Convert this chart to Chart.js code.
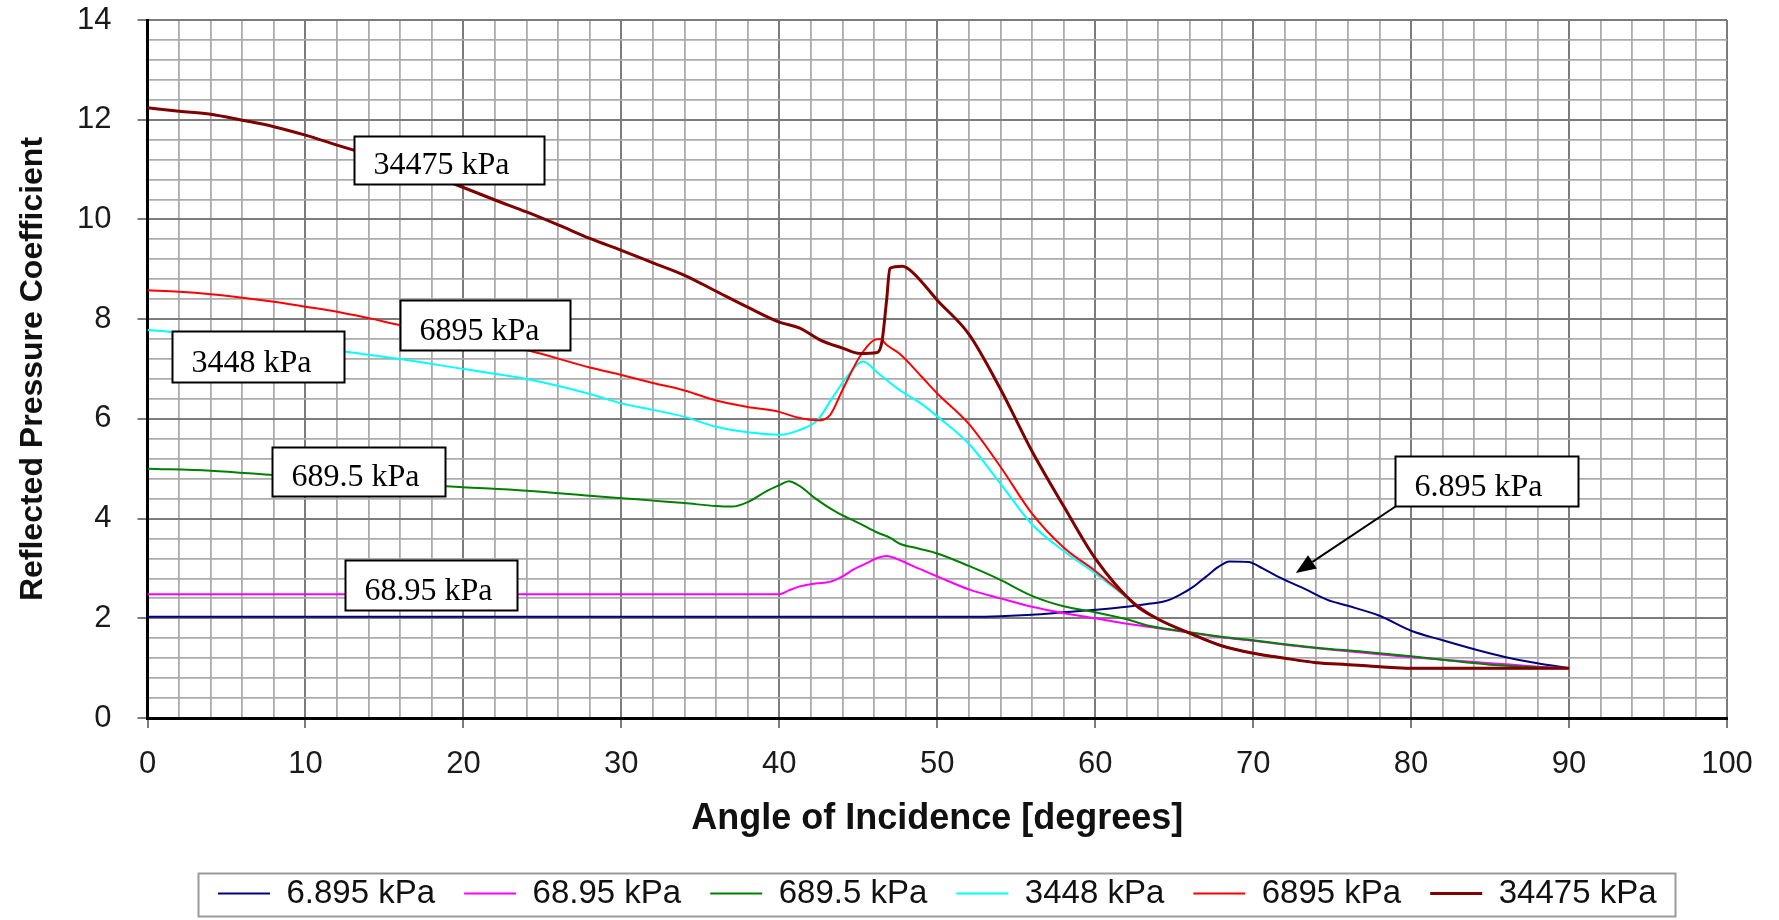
<!DOCTYPE html>
<html>
<head>
<meta charset="utf-8">
<script src="https://cdn.jsdelivr.net/npm/chart.js@4.4.1/dist/chart.umd.min.js"></script>
<style>
  html, body { margin: 0; padding: 0; background: #ffffff; }
  #wrap { width: 1779px; height: 920px; position: relative; }
</style>
</head>
<body>
<div id="wrap"><canvas id="c"></canvas></div>
<script>
// ---------- data ----------
const seriesNames = ['6.895 kPa', '68.95 kPa', '689.5 kPa', '3448 kPa', '6895 kPa', '34475 kPa'];

// 6.895 kPa
const ang6_895 = [0, 20, 40, 50, 52, 54, 56, 58, 60, 62, 63.4, 64.4, 65.3, 66.2, 67, 67.8, 68.5, 69.7, 70.6, 71.6, 73.2, 74.7, 76, 78, 80, 82, 84, 86, 88, 90];
const cp6_895  = [2.03, 2.03, 2.03, 2.03, 2.03, 2.04, 2.07, 2.12, 2.17, 2.23, 2.29, 2.34, 2.46, 2.63, 2.83, 3.03, 3.14, 3.13, 3.0, 2.83, 2.6, 2.37, 2.25, 2.05, 1.75, 1.56, 1.38, 1.22, 1.1, 1.0];

// 68.95 kPa
const ang68_95 = [0, 20, 40, 40.6, 41.3, 42.3, 43.2, 44, 44.7, 45.5, 46.2, 46.8, 47.6, 48.8, 50, 52, 54, 56, 58, 60, 62, 64, 66, 68, 70, 72, 75, 78, 80, 82, 85, 88, 90];
const cp68_95  = [2.48, 2.48, 2.48, 2.56, 2.64, 2.7, 2.73, 2.84, 2.98, 3.1, 3.21, 3.25, 3.17, 3.0, 2.84, 2.58, 2.4, 2.23, 2.1, 2.0, 1.89, 1.8, 1.71, 1.62, 1.55, 1.47, 1.37, 1.28, 1.22, 1.17, 1.1, 1.03, 1.0];

// 689.5 kPa
const ang689_5 = [0, 4, 8, 12, 16, 20, 24, 28, 30, 32, 34, 36, 37, 38, 39.2, 40, 40.6, 41.3, 42.3, 43.4, 44.3, 45.1, 46.2, 47, 47.6, 48.8, 50, 52, 54, 56, 58, 60, 62, 63.4, 66, 68, 70, 72, 74, 77, 80, 82, 85, 88, 90];
const cp689_5  = [5.0, 4.96, 4.87, 4.78, 4.7, 4.63, 4.56, 4.46, 4.41, 4.36, 4.31, 4.25, 4.24, 4.33, 4.55, 4.67, 4.75, 4.65, 4.4, 4.17, 4.02, 3.9, 3.72, 3.62, 3.5, 3.4, 3.3, 3.05, 2.77, 2.45, 2.24, 2.12, 1.98, 1.85, 1.72, 1.63, 1.56, 1.48, 1.41, 1.33, 1.24, 1.17, 1.07, 1.02, 1.0];

// 3448 kPa
const ang3448 = [0, 4, 8, 12, 16, 20, 24, 28, 30, 32, 34, 36, 38, 40, 41.3, 42.4, 43.4, 44.3, 45.3, 46.2, 47.6, 49, 50, 52, 54, 56, 58, 60, 62.5, 64, 66, 68, 70, 72, 74, 76, 78, 80, 85, 90];
const cp3448  = [7.78, 7.68, 7.53, 7.37, 7.2, 7.0, 6.8, 6.5, 6.31, 6.18, 6.04, 5.84, 5.73, 5.68, 5.78, 5.97, 6.44, 6.85, 7.15, 6.93, 6.58, 6.3, 6.05, 5.5, 4.7, 3.88, 3.35, 2.9, 2.3, 1.98, 1.7, 1.45, 1.3, 1.2, 1.11, 1.07, 1.03, 1.0, 1.0, 1.0];

// 6895 kPa
const ang6895 = [0, 2, 4, 6, 8, 10, 12, 14, 16, 20, 24, 28, 30, 32, 34, 36, 38, 40, 41, 42.4, 43.2, 44, 45.1, 46, 46.4, 46.8, 47.6, 49, 50, 52, 54, 56, 58, 60, 62.5, 64, 66, 68, 70, 72, 74, 76, 78, 80, 85, 90];
const cp6895  = [8.58, 8.55, 8.5, 8.43, 8.35, 8.25, 8.15, 8.02, 7.88, 7.63, 7.38, 7.03, 6.88, 6.72, 6.57, 6.37, 6.24, 6.14, 6.04, 5.97, 6.07, 6.58, 7.25, 7.58, 7.6, 7.48, 7.31, 6.85, 6.51, 5.9, 5.04, 4.1, 3.42, 2.95, 2.3, 1.98, 1.7, 1.45, 1.3, 1.2, 1.11, 1.07, 1.03, 1.0, 1.0, 1.0];

// 34475 kPa
const ang34475 = [0, 2, 4, 6, 8, 10, 12, 14, 16, 18, 20, 22, 24, 26, 28, 30, 32, 34, 36, 38, 40, 41.3, 42.6, 44, 45.1, 46.2, 46.5, 46.8, 47, 47.8, 48.5, 50, 52, 54, 56, 58, 60, 62.5, 64, 66, 68, 70, 72, 74, 76, 78, 80, 85, 90];
const cp34475  = [12.24, 12.17, 12.11, 11.99, 11.86, 11.69, 11.49, 11.3, 11.1, 10.88, 10.64, 10.39, 10.15, 9.89, 9.62, 9.38, 9.13, 8.88, 8.56, 8.24, 7.94, 7.82, 7.58, 7.42, 7.31, 7.33, 7.55, 8.4, 9.02, 9.06, 8.92, 8.38, 7.7, 6.6, 5.35, 4.25, 3.2, 2.28, 1.98, 1.7, 1.45, 1.3, 1.2, 1.11, 1.07, 1.03, 1.0, 1.0, 1.0];

const xTickLabels = [0, 10, 20, 30, 40, 50, 60, 70, 80, 90, 100];
const yTickLabels = [0, 2, 4, 6, 8, 10, 12, 14];

// ---------- styles ----------
const seriesAngles = [ang6_895, ang68_95, ang689_5, ang3448, ang6895, ang34475];
const seriesValues = [cp6_895, cp68_95, cp689_5, cp3448, cp6895, cp34475];
const seriesColors = ['#000080', '#ff00ff', '#008000', '#00ffff', '#ff0000', '#800000'];
const seriesWidths = [2, 2, 2, 2, 2, 3];

// callout boxes (anchored in data units: top-left corner), text labels
const callouts = [
  { text: '34475 kPa', x: 13.07, y: 11.67, w: 190, h: 48 },
  { text: '6895 kPa',  x: 15.99, y: 8.38,  w: 170, h: 50 },
  { text: '3448 kPa',  x: 1.55,  y: 7.76,  w: 172, h: 51 },
  { text: '689.5 kPa', x: 7.88,  y: 5.44,  w: 173, h: 49 },
  { text: '68.95 kPa', x: 12.5,  y: 3.17,  w: 172, h: 50 },
  { text: '6.895 kPa', x: 78.98, y: 5.25,  w: 183, h: 50, arrowTo: { x: 72.7, y: 2.91 } }
];

const FONT = "'Liberation Sans', Arial, sans-serif";
const SERIF = "'Liberation Serif', 'Times New Roman', serif";
const MAJOR = '#7c7c7c', MINOR = '#ababab';

const isMajorX = v => xTickLabels.some(t => Math.abs(t - v) < 1e-6);
const isMajorY = v => yTickLabels.some(t => Math.abs(t - v) < 1e-6);

const datasets = seriesNames.map((name, i) => ({
  label: name,
  data: seriesAngles[i].map((a, j) => ({ x: a, y: seriesValues[i][j] })),
  borderColor: seriesColors[i],
  backgroundColor: seriesColors[i],
  borderWidth: seriesWidths[i],
  pointRadius: 0,
  fill: false,
  cubicInterpolationMode: 'monotone',
  order: seriesNames.length - i
}));

const calloutPlugin = {
  id: 'callouts',
  afterDatasetsDraw(chart) {
    const { ctx } = chart;
    const xs = chart.scales.x, ys = chart.scales.y;
    ctx.save();
    callouts.forEach(c => {
      const left = Math.round(xs.getPixelForValue(c.x)) + 0.5;
      const top = Math.round(ys.getPixelForValue(c.y)) + 0.5;
      if (c.arrowTo) {
        const tx = xs.getPixelForValue(c.arrowTo.x), ty = ys.getPixelForValue(c.arrowTo.y);
        const sx = left, sy = top + c.h;
        const ang = Math.atan2(ty - sy, tx - sx);
        const hl = 20, hw = 8;
        const bx = tx - Math.cos(ang) * hl, by = ty - Math.sin(ang) * hl;
        ctx.strokeStyle = '#000'; ctx.lineWidth = 2;
        ctx.beginPath(); ctx.moveTo(sx, sy); ctx.lineTo(bx, by); ctx.stroke();
        ctx.fillStyle = '#000';
        ctx.beginPath();
        ctx.moveTo(tx, ty);
        ctx.lineTo(bx + Math.sin(ang) * hw, by - Math.cos(ang) * hw);
        ctx.lineTo(bx - Math.sin(ang) * hw, by + Math.cos(ang) * hw);
        ctx.closePath(); ctx.fill();
      }
      ctx.fillStyle = '#fff';
      ctx.fillRect(left, top, c.w, c.h);
      ctx.strokeStyle = '#000'; ctx.lineWidth = 2;
      ctx.strokeRect(left, top, c.w, c.h);
      ctx.fillStyle = '#000';
      ctx.font = '32px ' + SERIF;
      ctx.textAlign = 'left';
      ctx.textBaseline = 'alphabetic';
      ctx.fillText(c.text, left + 19, top + c.h - 11);
    });
    ctx.restore();
  }
};

const legendBoxPlugin = {
  id: 'legendBox',
  afterDraw(chart) {
    const lg = chart.legend;
    if (!lg || !lg.legendHitBoxes || !lg.legendHitBoxes.length) return;
    const hb = lg.legendHitBoxes;
    const first = hb[0], last = hb[hb.length - 1];
    const cy = first.top + first.height / 2;
    const ctx = chart.ctx;
    ctx.save();
    ctx.strokeStyle = '#9a9a9a';
    ctx.lineWidth = 2;
    const l = Math.round(first.left - 20) + 0.5;
    const r = Math.round(last.left + last.width + 18) + 0.5;
    const t = Math.round(cy - 21) + 0.5;
    const b = Math.round(cy + 22) + 0.5;
    ctx.strokeRect(l, t, r - l, b - t);
    ctx.restore();
  }
};

new Chart(document.getElementById('c'), {
  type: 'line',
  data: { datasets },
  plugins: [calloutPlugin, legendBoxPlugin],
  options: {
    responsive: true,
    maintainAspectRatio: false,
    animation: false,
    layout: { padding: { top: 20, right: 52, bottom: 0, left: 0 } },
    plugins: {
      tooltip: { enabled: false },
      legend: {
        position: 'bottom',
        fullSize: false,
        labels: {
          usePointStyle: true,
          pointStyle: 'line',
          pointStyleWidth: 52,
          padding: 29,
          color: '#111',
          font: { family: FONT, size: 33 },
          sort: (a, b) => a.datasetIndex - b.datasetIndex
        }
      }
    },
    scales: {
      x: {
        type: 'linear',
        min: 0, max: 100,
        afterFit: s => { s.height = 130; },
        ticks: {
          stepSize: 2,
          autoSkip: false,
          maxRotation: 0,
          padding: 18,
          color: '#1a1a1a',
          font: { family: FONT, size: 31 },
          callback: v => (isMajorX(v) ? String(Math.round(v)) : '')
        },
        grid: {
          color: c => (c.tick && isMajorX(c.tick.value) ? MAJOR : MINOR),
          lineWidth: c => (c.tick && isMajorX(c.tick.value) ? 2 : 1.8),
          tickColor: c => (c.tick && isMajorX(c.tick.value) ? MAJOR : 'rgba(0,0,0,0)'),
          tickLength: 10
        },
        border: { display: true, color: '#000', width: 3 },
        title: {
          display: true,
          text: 'Angle of Incidence [degrees]',
          color: '#111',
          font: { family: FONT, size: 36, weight: 'bold', lineHeight: 1 },
          padding: { top: 0, bottom: 11 }
        }
      },
      y: {
        type: 'linear',
        min: 0, max: 14,
        afterFit: s => { s.width = 147.5; s.paddingTop = 0; s.paddingBottom = 0; },
        ticks: {
          stepSize: 0.4,
          autoSkip: false,
          padding: 26,
          color: '#1a1a1a',
          font: { family: FONT, size: 31 },
          callback: v => (isMajorY(v) ? String(Math.round(v)) : '')
        },
        grid: {
          color: c => (c.tick && isMajorY(c.tick.value) ? MAJOR : MINOR),
          lineWidth: c => (c.tick && isMajorY(c.tick.value) ? 2 : 1.8),
          tickColor: c => (c.tick && isMajorY(c.tick.value) ? MAJOR : 'rgba(0,0,0,0)'),
          tickLength: 10
        },
        border: { display: true, color: '#000', width: 3 },
        title: {
          display: true,
          text: 'Reflected Pressure Coefficient',
          color: '#111',
          font: { family: FONT, size: 32, weight: 'bold' },
          padding: { top: 14, bottom: 0 }
        }
      }
    }
  }
});
</script>
</body>
</html>
